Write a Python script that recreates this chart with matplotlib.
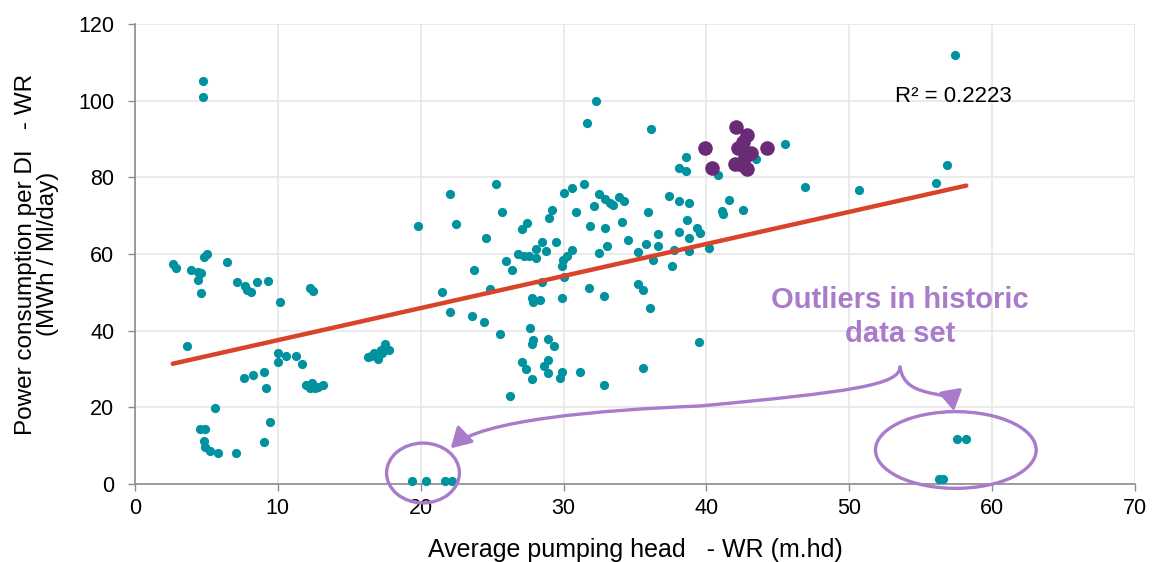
import matplotlib
matplotlib.use("Agg")
import matplotlib.pyplot as plt
from matplotlib.patches import Ellipse, FancyArrowPatch
from matplotlib.path import Path
import numpy as np

plt.rcParams['font.family'] = ['Liberation Sans', 'DejaVu Sans']

# ---------------- data ----------------
teal_x = [4.74, 4.74,
          2.64, 2.87, 3.89, 4.43, 4.6, 4.43, 4.6, 5.02, 4.86, 6.42, 7.12, 7.7, 7.86, 8.1, 8.52, 9.33, 10.15, 12.25, 12.44,
          3.62, 10.01, 10.57, 11.27, 10.01, 11.69,
          7.65, 8.24, 9.05, 9.17, 11.95, 12.36, 12.6, 13.14, 12.25, 12.8,
          5.58, 9.45, 4.55, 4.9, 4.83, 4.9, 5.25, 5.83, 7.07, 9.05,
          16.5, 16.7, 17.0, 17.2, 17.5, 17.8, 16.9, 17.3, 16.3,
          19.81, 22.05, 22.47, 21.49, 22.05, 23.73, 23.59, 24.4, 24.55, 24.85, 25.25, 25.52, 25.66, 25.94, 26.36, 26.22,
          26.83, 27.23, 27.6, 28.07, 27.06, 27.41, 28.07, 28.47, 28.77, 29.47, 29.17, 29.0, 30.0, 30.56, 31.4, 32.25, 31.66, 36.14,
          32.5, 32.9, 33.25, 33.48, 33.9, 34.23, 32.1, 30.85, 31.82, 32.92, 34.06, 35.88,
          30.56, 30.21, 29.98, 29.86, 30.03, 28.47, 32.5, 33.07, 34.48, 35.74, 36.58, 36.58, 35.18, 36.28, 37.56, 37.7, 38.8, 40.2,
          31.81, 32.83, 35.18, 35.58, 36.02, 29.86, 27.76, 27.88, 28.35,
          27.65, 27.88, 27.76, 28.91, 29.33, 27.06, 27.37, 27.77, 28.91, 28.63, 28.91, 29.86, 29.75, 31.13, 32.8, 35.58, 39.5,
          37.4, 38.1, 38.8, 38.66, 39.31, 39.55, 38.1, 38.8, 38.54, 38.1, 38.54, 40.8, 41.6, 41.07, 41.18, 42.58, 43.47, 45.5,
          46.9, 50.7, 56.1, 56.84, 57.38, 41.9,
          19.36, 20.35, 21.72, 22.2, 56.3, 56.55, 57.54, 58.19]
teal_y = [105.1, 101.0,
          57.4, 56.3, 55.8, 55.4, 55.0, 53.2, 49.7, 60.0, 59.1, 57.8, 52.6, 51.7, 50.6, 50.0, 52.6, 53.0, 47.4, 51.1, 50.4,
          36.0, 34.1, 33.5, 33.5, 31.8, 31.4,
          27.7, 28.4, 29.3, 25.1, 25.7, 26.3, 25.0, 25.7, 25.0, 25.4,
          19.9, 16.3, 14.3, 14.3, 11.1, 9.7, 8.7, 8.0, 8.0, 11.0,
          33.5, 34.2, 32.5, 35.0, 36.5, 35.0, 33.8, 34.3, 33.0,
          67.2, 75.6, 67.8, 50.1, 44.9, 55.8, 43.9, 42.3, 64.1, 50.9, 78.2, 39.2, 70.9, 58.3, 55.8, 23.0,
          60.0, 59.5, 59.5, 58.9, 66.6, 68.2, 61.2, 63.0, 60.9, 63.0, 71.5, 69.3, 76.0, 77.1, 78.2, 99.9, 94.3, 92.6,
          75.6, 74.4, 73.4, 72.8, 74.8, 73.9, 72.4, 70.9, 67.2, 66.7, 68.3, 70.9,
          61.0, 59.5, 58.4, 56.9, 54.1, 52.8, 60.3, 62.1, 63.7, 62.6, 62.1, 65.1, 60.5, 58.4, 56.9, 61.0, 60.9, 61.5,
          51.1, 49.0, 52.2, 50.6, 45.9, 48.4, 48.4, 47.6, 48.0,
          40.8, 37.6, 36.5, 37.7, 36.1, 31.9, 30.1, 27.5, 32.4, 30.9, 28.9, 29.3, 27.7, 29.2, 25.7, 30.3, 37.0,
          75.0, 73.9, 73.4, 68.8, 66.8, 65.6, 65.7, 64.1, 85.4, 82.4, 81.7, 80.7, 74.0, 71.3, 70.4, 71.4, 84.7, 88.6,
          77.6, 76.6, 78.6, 83.3, 111.9, 93.5,
          0.8, 0.8, 0.8, 0.8, 1.2, 1.2, 11.7, 11.7]

purple_x = [42.05, 42.86, 42.58, 42.23, 39.9, 44.21, 43.09, 42.7, 40.37, 42.0, 42.86, 42.46]
purple_y = [93.2, 91.0, 89.3, 87.6, 87.6, 87.6, 86.3, 85.4, 82.4, 83.4, 82.2, 83.2]

trend_slope = 0.8366
trend_intercept = 29.16
r2_text = "R² = 0.2223"

x_ticks = [0, 10, 20, 30, 40, 50, 60, 70]
y_ticks = [0, 20, 40, 60, 80, 100, 120]
x_label = "Average pumping head   - WR (m.hd)"
y_label = "Power consumption per DI   - WR\n(MWh / Ml/day)"
outlier_text = "Outliers in historic\ndata set"

# ---------------- styling ----------------
TEAL = "#00929F"
PURPLE = "#6A2B76"
TREND = "#D8432A"
LAV = "#A87BCB"
GRID = "#E6E6E6"
AXC = "#8C8C8C"

fig = plt.figure(figsize=(11.52, 5.62), dpi=100)
ax = fig.add_axes([0.1172, 0.1388, 0.868, 0.8185])

ax.set_xlim(0, 70)
ax.set_ylim(0, 120)
ax.set_xticks(x_ticks)
ax.set_yticks(y_ticks)
ax.grid(True, color=GRID, lw=1.2, zorder=0)
ax.set_axisbelow(True)
for s in ["top", "right"]:
    ax.spines[s].set_visible(False)
for s in ["left", "bottom"]:
    ax.spines[s].set_color(AXC)
    ax.spines[s].set_linewidth(1.2)
ax.tick_params(axis="both", colors=AXC, length=5, width=1.0, labelsize=15.5,
               labelcolor="black", direction="out")
ax.tick_params(axis="x", pad=5)
ax.tick_params(axis="y", pad=10)

ax.scatter(teal_x, teal_y, s=44, color=TEAL, zorder=3, linewidths=0, clip_on=False)

xs = np.array([min(teal_x), max(teal_x)])
ax.plot(xs, trend_intercept + trend_slope * xs, color=TREND, lw=3.2, solid_capstyle="round", zorder=4)

ax.scatter(purple_x, purple_y, s=110, color=PURPLE, zorder=5, linewidths=0)

ax.text(53.2, 101.0, r2_text, fontsize=16, va="center", ha="left", color="black")

ax.set_xlabel(x_label, fontsize=18, labelpad=14)
ax.set_ylabel(y_label, fontsize=17.5, labelpad=14, linespacing=1.0)

# outlier annotations
ax.add_patch(Ellipse((20.16, 2.87), 5.1, 15.6, fill=False, edgecolor=LAV, lw=2.4, clip_on=False, zorder=6))
ax.add_patch(Ellipse((57.46, 8.87), 11.25, 20.0, fill=False, edgecolor=LAV, lw=2.4, clip_on=False, zorder=6))

ax.text(53.55, 43.6, outlier_text, fontsize=21, fontweight="bold", color=LAV,
        ha="center", va="center", linespacing=1.25, zorder=6)

codes = [Path.MOVETO, Path.CURVE4, Path.CURVE4, Path.CURVE4, Path.CURVE4, Path.CURVE4, Path.CURVE4]
left_path = Path([(53.55, 30.52), (53.55, 25.83), (50.05, 24.0), (39.55, 20.35),
                  (32.55, 19.31), (24.15, 16.7), (22.1, 9.3)], codes)
right_path = Path([(53.55, 30.52), (53.76, 25.83), (54.6, 24.52), (56.0, 23.48),
                   (56.91, 22.96), (57.19, 21.91), (57.33, 19.0)], codes)
for p in (left_path, right_path):
    arr = FancyArrowPatch(path=p, arrowstyle="-|>,head_length=0.6,head_width=0.35",
                          mutation_scale=20, color=LAV, lw=2.4, zorder=6, clip_on=False)
    ax.add_patch(arr)

fig.savefig("out.png", dpi=100)
